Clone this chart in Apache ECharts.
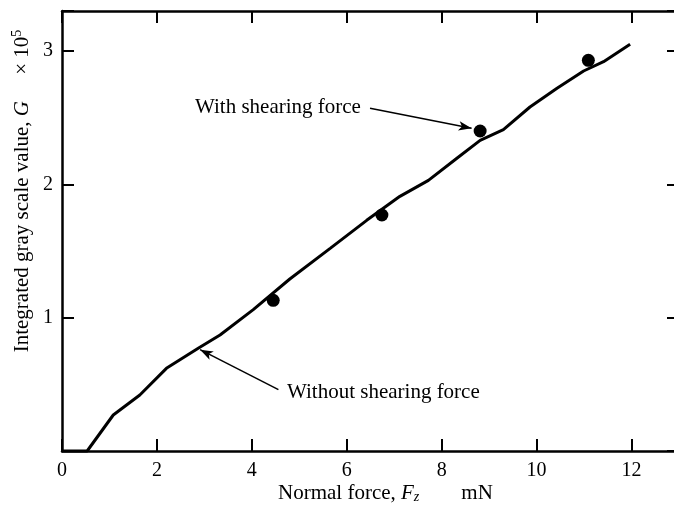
<!DOCTYPE html>
<html>
<head>
<meta charset="utf-8">
<script src="https://cdn.jsdelivr.net/npm/echarts@6/dist/echarts.min.js"></script>
<style>html,body{margin:0;padding:0;background:#fff;}#c{width:674px;height:510px;}</style>
</head>
<body>
<div id="c"></div>
<script>
// Data
const curveX = [0, 0.53, 1.08, 1.64, 2.2, 2.87, 3.33, 4.03, 4.8, 5.65, 6.42, 7.12, 7.72, 8.3, 8.81, 9.3, 9.86, 10.43, 10.99, 11.41, 11.97];
const curveY = [0, 0, 0.27, 0.42, 0.62, 0.77, 0.87, 1.06, 1.29, 1.52, 1.73, 1.91, 2.03, 2.19, 2.33, 2.41, 2.58, 2.72, 2.85, 2.92, 3.05];
const dotX = [4.45, 6.74, 8.81, 11.09];
const dotY = [1.13, 1.77, 2.40, 2.93];
const xTicks = [0, 2, 4, 6, 8, 10, 12];
const yTicks = [1, 2, 3];
const arrowWith = [[6.49, 2.57], [8.63, 2.42]];
const arrowWithout = [[4.56, 0.46], [2.91, 0.76]];
const labelWith = 'With shearing force';
const labelWithout = 'Without shearing force';

const FONT = "'Liberation Serif', 'Times New Roman', serif";
const chart = echarts.init(document.getElementById('c'), null, {renderer: 'canvas'});

function axisCommon() {
  return {
    axisLine: {show: true, onZero: false, lineStyle: {color: '#000', width: 2.5}},
    axisTick: {show: true, inside: true, length: 12, lineStyle: {color: '#000', width: 2}},
    splitLine: {show: false}
  };
}

const option = {
  animation: false,
  backgroundColor: '#fff',
  grid: {left: 62, top: 11, width: 617, height: 440, containLabel: false, outerBoundsMode: 'none'},
  xAxis: [
    Object.assign(axisCommon(), {
      type: 'value', min: 0, max: 13, interval: 2, position: 'bottom',
      axisLabel: {show: true, margin: 10, color: '#000', fontFamily: FONT, fontSize: 20,
        formatter: v => xTicks.indexOf(v) >= 0 ? String(v) : ''}
    }),
    Object.assign(axisCommon(), {
      type: 'value', min: 0, max: 13, interval: 2, position: 'top',
      axisLabel: {show: false}
    })
  ],
  yAxis: [
    Object.assign(axisCommon(), {
      type: 'value', min: 0, max: 3.3, interval: 1, position: 'left',
      axisLabel: {show: true, margin: 9, color: '#000', fontFamily: FONT, fontSize: 20,
        formatter: v => yTicks.indexOf(v) >= 0 ? String(v) : ''}
    }),
    Object.assign(axisCommon(), {
      type: 'value', min: 0, max: 3.3, interval: 1, position: 'right',
      axisLabel: {show: false}
    })
  ],
  graphic: [
    {
      type: 'text', left: 278, top: 483,
      style: {
        text: '{n|Normal force, }{i|F}{s|z}{n|        mN}',
        rich: {
          n: {fontFamily: FONT, fontSize: 21, fill: '#000'},
          i: {fontFamily: FONT, fontSize: 21, fontStyle: 'italic', fill: '#000'},
          s: {fontFamily: FONT, fontSize: 14, fontStyle: 'italic', fill: '#000', padding: [8, 0, 0, 0]}
        }
      }
    },
    {
      type: 'text', x: 22, y: 191, rotation: Math.PI / 2,
      style: {
        text: '{n|Integrated gray scale value, }{i|G}{n|     × 10}{p|5}',
        align: 'center', verticalAlign: 'middle',
        rich: {
          n: {fontFamily: FONT, fontSize: 21, fill: '#000'},
          i: {fontFamily: FONT, fontSize: 21, fontStyle: 'italic', fill: '#000'},
          p: {fontFamily: FONT, fontSize: 14, fill: '#000', padding: [0, 0, 10, 0]}
        }
      }
    },
    {
      type: 'text', left: 195, top: 97,
      style: {text: labelWith, fontFamily: FONT, fontSize: 21, fill: '#000'}
    },
    {
      type: 'text', left: 287, top: 382,
      style: {text: labelWithout, fontFamily: FONT, fontSize: 21, fill: '#000'}
    }
  ],
  series: [
    {
      type: 'line',
      data: curveX.map((x, i) => [x, curveY[i]]),
      showSymbol: false,
      lineStyle: {color: '#000', width: 3},
      clip: false,
      markLine: {
        silent: true,
        symbol: ['none', 'arrow'],
        symbolSize: [7, 13],
        lineStyle: {color: '#000', width: 1.5, type: 'solid'},
        label: {show: false},
        data: [
          [{coord: arrowWith[0]}, {coord: arrowWith[1]}],
          [{coord: arrowWithout[0]}, {coord: arrowWithout[1]}]
        ]
      }
    },
    {
      type: 'scatter',
      data: dotX.map((x, i) => [x, dotY[i]]),
      symbol: 'circle',
      symbolSize: 13,
      itemStyle: {color: '#000', opacity: 1}
    }
  ]
};
chart.setOption(option);
</script>
</body>
</html>
